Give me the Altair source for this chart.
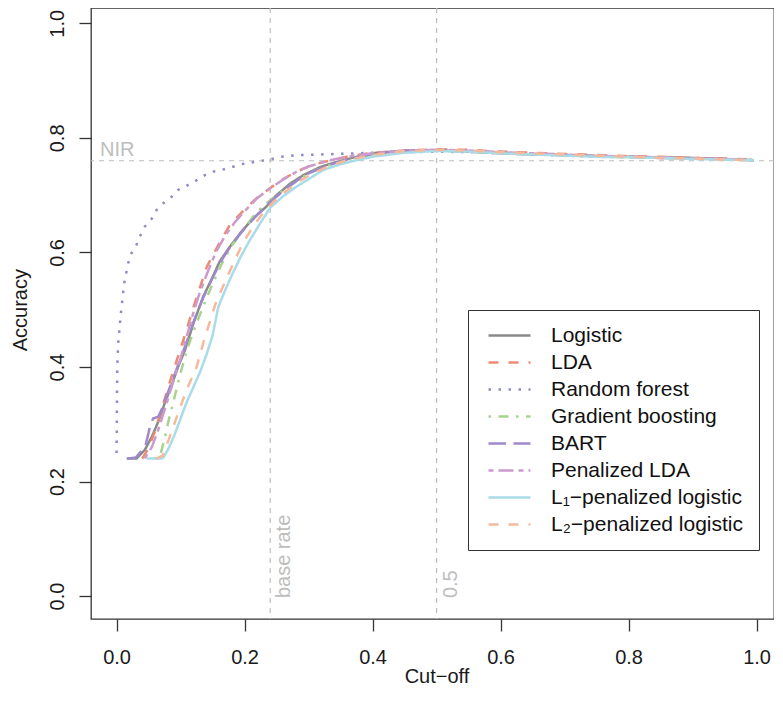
import altair as alt
import pandas as pd

models = ["Logistic", "LDA", "Random forest", "Gradient boosting", "BART",
          "Penalized LDA", "L\u2081\u2212penalized logistic", "L\u2082\u2212penalized logistic"]
colors = ["#8a8a8a", "#ee8a72", "#8d8bc8", "#a7d38e", "#9f89cb", "#cc9bcd", "#a8dce8", "#f6b99c"]
dashes = [[1, 0], [10, 10], [2.5, 7.5], [2.5, 7.5, 10, 7.5], [17.5, 7.5], [5, 5, 15, 5], [1, 0], [10, 10]]

tail_cut = [0.55, 0.60, 0.65, 0.70, 0.75, 0.80, 0.85, 0.90, 0.95, 0.995]

logistic_cut = [0.016, 0.031, 0.044, 0.055, 0.065, 0.075, 0.086, 0.096, 0.107, 0.120, 0.135, 0.148, 0.161, 0.177,
                0.195, 0.213, 0.234, 0.250, 0.271, 0.292, 0.318, 0.344, 0.375, 0.406, 0.448, 0.500] + tail_cut
logistic_acc = [0.240, 0.240, 0.255, 0.278, 0.304, 0.336, 0.368, 0.400, 0.430, 0.476, 0.522, 0.552, 0.584, 0.610,
                0.636, 0.659, 0.680, 0.700, 0.720, 0.735, 0.749, 0.758, 0.767, 0.774, 0.777, 0.778,
                0.776, 0.773, 0.771, 0.770, 0.768, 0.767, 0.766, 0.765, 0.763, 0.761]

lda_cut = [0.040, 0.050, 0.060, 0.070, 0.080, 0.090, 0.100, 0.109, 0.122, 0.141, 0.160, 0.177, 0.200, 0.221,
           0.242, 0.260, 0.281, 0.300, 0.320, 0.360, 0.400, 0.450, 0.500] + tail_cut
lda_acc = [0.240, 0.258, 0.288, 0.325, 0.362, 0.398, 0.432, 0.464, 0.511, 0.575, 0.615, 0.648, 0.675, 0.697,
           0.714, 0.728, 0.741, 0.750, 0.757, 0.767, 0.774, 0.778, 0.780,
           0.779, 0.776, 0.774, 0.772, 0.770, 0.768, 0.767, 0.765, 0.764, 0.762]

rf_cut = [0.000, 0.001, 0.0025, 0.0067, 0.0119, 0.018, 0.0234, 0.031, 0.036, 0.044, 0.055, 0.0625, 0.073, 0.086,
          0.096, 0.109, 0.122, 0.138, 0.151, 0.167, 0.180, 0.195, 0.211, 0.227, 0.242, 0.258, 0.286, 0.318,
          0.349, 0.400, 0.450, 0.500] + tail_cut
rf_acc = [0.250, 0.400, 0.441, 0.494, 0.546, 0.581, 0.599, 0.613, 0.627, 0.645, 0.659, 0.674, 0.686, 0.697,
          0.709, 0.716, 0.724, 0.735, 0.741, 0.745, 0.749, 0.754, 0.757, 0.760, 0.763, 0.767, 0.770, 0.771,
          0.772, 0.774, 0.775, 0.776,
          0.775, 0.773, 0.771, 0.769, 0.767, 0.766, 0.765, 0.764, 0.763, 0.761]

gb_cut = [0.058, 0.068, 0.075, 0.082, 0.090, 0.100, 0.110, 0.120, 0.135, 0.150, 0.165, 0.180, 0.200, 0.215,
          0.230, 0.250, 0.270, 0.290, 0.310, 0.340, 0.370, 0.400, 0.450, 0.500] + tail_cut
gb_acc = [0.240, 0.245, 0.275, 0.310, 0.345, 0.390, 0.430, 0.462, 0.505, 0.545, 0.582, 0.612, 0.642, 0.665,
          0.682, 0.700, 0.716, 0.731, 0.743, 0.755, 0.764, 0.771, 0.777, 0.778,
          0.776, 0.774, 0.772, 0.770, 0.768, 0.766, 0.765, 0.764, 0.762, 0.761]

bart_cut = [0.016, 0.030, 0.045, 0.052, 0.057, 0.065, 0.072, 0.080, 0.090, 0.100, 0.110, 0.120, 0.135, 0.150,
            0.165, 0.180, 0.200, 0.220, 0.240, 0.260, 0.280, 0.300, 0.330, 0.360, 0.400, 0.450, 0.500] + tail_cut
bart_acc = [0.240, 0.242, 0.262, 0.295, 0.310, 0.313, 0.330, 0.355, 0.385, 0.415, 0.445, 0.478, 0.520, 0.556,
            0.588, 0.614, 0.642, 0.666, 0.688, 0.707, 0.724, 0.738, 0.752, 0.762, 0.772, 0.778, 0.779,
            0.777, 0.774, 0.772, 0.770, 0.768, 0.767, 0.765, 0.764, 0.763, 0.761]

plda_cut = [0.044, 0.055, 0.065, 0.075, 0.090, 0.100, 0.110, 0.120, 0.130, 0.142, 0.155, 0.170, 0.185, 0.200,
            0.220, 0.240, 0.260, 0.280, 0.300, 0.330, 0.360, 0.400, 0.450, 0.500] + tail_cut
plda_acc = [0.240, 0.260, 0.290, 0.325, 0.380, 0.415, 0.455, 0.495, 0.530, 0.565, 0.600, 0.630, 0.653, 0.672,
            0.695, 0.712, 0.727, 0.740, 0.750, 0.760, 0.767, 0.773, 0.777, 0.779,
            0.778, 0.775, 0.773, 0.771, 0.769, 0.767, 0.766, 0.764, 0.763, 0.761]

l1_cut = [0.047, 0.072, 0.080, 0.090, 0.100, 0.110, 0.120, 0.130, 0.140, 0.150, 0.159, 0.170, 0.182, 0.195,
          0.208, 0.225, 0.240, 0.260, 0.280, 0.300, 0.323, 0.350, 0.375, 0.400, 0.450, 0.500] + tail_cut
l1_acc = [0.240, 0.240, 0.255, 0.280, 0.310, 0.340, 0.365, 0.390, 0.420, 0.455, 0.505, 0.535, 0.565, 0.595,
          0.621, 0.652, 0.678, 0.698, 0.714, 0.728, 0.744, 0.754, 0.761, 0.767, 0.774, 0.777,
          0.776, 0.773, 0.771, 0.769, 0.767, 0.766, 0.765, 0.763, 0.762, 0.761]

l2_cut = [0.062, 0.072, 0.083, 0.096, 0.109, 0.125, 0.138, 0.156, 0.180, 0.198, 0.215, 0.230, 0.245, 0.260,
          0.280, 0.300, 0.330, 0.360, 0.400, 0.450, 0.500] + tail_cut
l2_acc = [0.240, 0.245, 0.278, 0.319, 0.359, 0.400, 0.452, 0.515, 0.575, 0.618, 0.648, 0.670, 0.688, 0.703,
          0.720, 0.734, 0.750, 0.761, 0.770, 0.777, 0.779,
          0.778, 0.775, 0.773, 0.771, 0.769, 0.767, 0.765, 0.764, 0.762, 0.761]

series = [(logistic_cut, logistic_acc), (lda_cut, lda_acc), (rf_cut, rf_acc), (gb_cut, gb_acc),
          (bart_cut, bart_acc), (plda_cut, plda_acc), (l1_cut, l1_acc), (l2_cut, l2_acc)]

rows = []
for i, (name, (cx, ay)) in enumerate(zip(models, series)):
    for j, (c, a) in enumerate(zip(cx, ay)):
        rows.append({"model": name, "cut": c, "acc": a, "idx": j})
df = pd.DataFrame(rows)

nir = 0.76
base_rate = 0.24
half = 0.5

FONT = "Liberation Sans"
GREY = "#bdbdbd"

xscale = alt.Scale(domain=[-0.04, 1.0272], nice=False, zero=False)
yscale = alt.Scale(domain=[-0.04, 1.0267], nice=False, zero=False)

legend = alt.Legend(orient="none", legendX=377, legendY=302, title=None, fillColor="white",
                    strokeColor="#333333", padding=15, symbolType="stroke", symbolSize=1764,
                    symbolStrokeWidth=2.5, labelFontSize=21, labelFont=FONT, labelColor="#111111",
                    labelOffset=19, rowPadding=5, clipHeight=21, symbolOffset=4, labelLimit=400)

lines = alt.Chart(df).mark_line(strokeWidth=2.5).encode(
    x=alt.X("cut:Q", scale=xscale,
            axis=alt.Axis(values=[0, 0.2, 0.4, 0.6, 0.8, 1.0], format=".1f", labelPadding=16,
                          title="Cut\u2212off", titleX=345.5, titleY=63, titleBaseline="alphabetic",
                          titleAlign="center")),
    y=alt.Y("acc:Q", scale=yscale,
            axis=alt.Axis(values=[0, 0.2, 0.4, 0.6, 0.8, 1.0], format=".1f", labelAngle=270,
                          labelAlign="center", labelBaseline="alphabetic", labelPadding=16,
                          title="Accuracy", titleAngle=270, titleX=-65, titleY=301.7,
                          titleBaseline="alphabetic", titleAlign="center")),
    color=alt.Color("model:N", scale=alt.Scale(domain=models, range=colors), legend=legend),
    strokeDash=alt.StrokeDash("model:N", scale=alt.Scale(domain=models, range=dashes), legend=legend),
    order="idx:Q",
)

vrules = alt.Chart(pd.DataFrame({"x": [base_rate, half]})).mark_rule(
    color=GREY, strokeDash=[5, 5], strokeWidth=1.2).encode(x=alt.X("x:Q", scale=xscale))
hrule = alt.Chart(pd.DataFrame({"y": [nir]})).mark_rule(
    color=GREY, strokeDash=[5, 5], strokeWidth=1.2).encode(y=alt.Y("y:Q", scale=yscale))

nir_text = alt.Chart(pd.DataFrame({"x": [-0.026], "y": [nir], "t": ["NIR"]})).mark_text(
    font=FONT, fontSize=20, color=GREY, align="left", baseline="alphabetic", dy=-4.5).encode(
    x=alt.X("x:Q", scale=xscale), y=alt.Y("y:Q", scale=yscale), text="t:N")

vtext = alt.Chart(pd.DataFrame({"x": [base_rate, half], "y": [0.0, 0.0], "t": ["base rate", "0.5"]})).mark_text(
    font=FONT, fontSize=20, color=GREY, align="left", baseline="top", angle=270, dx=-2, dy=4).encode(
    x=alt.X("x:Q", scale=xscale), y=alt.Y("y:Q", scale=yscale), text="t:N")

chart = alt.layer(vrules, hrule, lines, nir_text, vtext).properties(
    width=683, height=611,
    autosize=alt.AutoSizeParams(type="none"),
    padding={"left": 83, "top": 0, "right": 0, "bottom": 75},
).configure_view(stroke="#333333", strokeWidth=1.3).configure_axis(
    labelFont=FONT, labelFontSize=20, labelColor="#1a1a1a", tickColor="#333333", tickSize=12,
    tickWidth=1.3, domain=False, grid=False, titleFont=FONT, titleFontSize=20,
    titleFontWeight="normal", titleColor="#1a1a1a")

chart.save("out.html", embed_options={"renderer": "svg", "actions": False})
